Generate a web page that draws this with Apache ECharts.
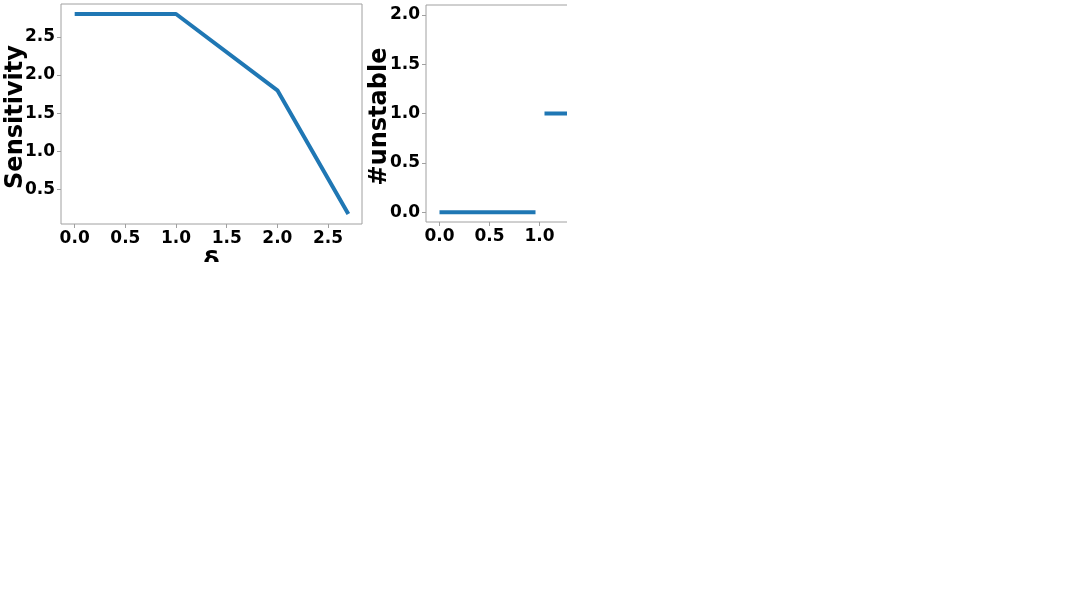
<!DOCTYPE html>
<html>
<head>
<meta charset="utf-8">
<script src="https://cdn.jsdelivr.net/npm/echarts@6/dist/echarts.min.js"></script>
<style>
html,body{margin:0;padding:0;background:#fff;}
#page{width:1087px;height:611px;background:#fff;position:relative;overflow:hidden;}
#clip{position:absolute;left:0;top:0;width:567px;height:262px;overflow:hidden;}
#chart{position:absolute;left:0;top:0;width:800px;height:300px;}
</style>
</head>
<body>
<div id="page"><div id="clip"><div id="chart"></div></div></div>
<script>
// Left panel: Sensitivity vs delta
const deltaLeft = [0, 1, 2, 2.7];
const sensitivity = [2.8, 2.8, 1.8, 0.18];
// Right panel: #unstable vs delta (separate flat segments)
const unstableSeg0X = [0, 0.96];
const unstableSeg0Y = [0, 0];
const unstableSeg1X = [1.05, 1.95];
const unstableSeg1Y = [1, 1];
const unstableSeg2X = [2.05, 2.7];
const unstableSeg2Y = [2, 2];
// Tick labels
const xTicks = [0, 0.5, 1.0, 1.5, 2.0, 2.5];
const yTicksLeft = [0.5, 1.0, 1.5, 2.0, 2.5];
const yTicksRight = [0, 0.5, 1.0, 1.5, 2.0];
const xLabel = 'δ';
const yLabelLeft = 'Sensitivity';
const yLabelRight = '#unstable';

const zip = (xs, ys) => xs.map((x, i) => [x, ys[i]]);
const FONT = 'DejaVu Sans';
const GRAY = '#a0a0a0';
const BLUE = '#1f77b4';

function xAxis(gridIndex, min, max) {
  return {
    type: 'value', gridIndex, min, max,
    splitLine: {show: false},
    axisLine: {show: false, onZero: false},
    axisTick: {show: true, length: 4, lineStyle: {color: GRAY, width: 1}, customValues: xTicks},
    axisLabel: {customValues: xTicks, color: '#000', fontFamily: FONT, fontWeight: 'bold', fontSize: 17, margin: 6,
      formatter: v => v.toFixed(1)},
    name: xLabel, nameLocation: 'middle', nameGap: 27, nameMoveOverlap: false,
    nameTextStyle: {color: '#000', fontFamily: FONT, fontWeight: 'bold', fontSize: 24, verticalAlign: 'top'}
  };
}
function yAxis(gridIndex, min, max, ticks, name, gap) {
  return {
    type: 'value', gridIndex, min, max,
    splitLine: {show: false},
    axisLine: {show: false, onZero: false},
    axisTick: {show: true, length: 4, lineStyle: {color: GRAY, width: 1}, customValues: ticks},
    axisLabel: {customValues: ticks, color: '#000', fontFamily: FONT, fontWeight: 'bold', fontSize: 17, margin: 6,
      formatter: v => v.toFixed(1)},
    name, nameLocation: 'middle', nameGap: gap, nameRotate: 90, nameMoveOverlap: false,
    nameTextStyle: {color: '#000', fontFamily: FONT, fontWeight: 'bold', fontSize: 24, padding: [0, 6, 0, 0]}
  };
}
function line(xi, yi, data) {
  return {type: 'line', xAxisIndex: xi, yAxisIndex: yi, data, showSymbol: false, symbol: 'none',
    lineStyle: {color: BLUE, width: 4, cap: 'butt'}, itemStyle: {color: BLUE}, animation: false, silent: true};
}

const chart = echarts.init(document.getElementById('chart'), null, {renderer: 'canvas'});
chart.setOption({
  animation: false,
  backgroundColor: '#fff',
  grid: [
    {left: 61, top: 4, width: 301, height: 220, show: true, borderColor: GRAY, borderWidth: 1, backgroundColor: 'transparent', containLabel: false, outerBoundsMode: 'none'},
    {left: 426, top: 5, width: 297, height: 217, show: true, borderColor: GRAY, borderWidth: 1, backgroundColor: 'transparent', containLabel: false, outerBoundsMode: 'none'}
  ],
  xAxis: [xAxis(0, -0.135, 2.835), xAxis(1, -0.135, 2.835)],
  yAxis: [yAxis(0, 0.049, 2.931, yTicksLeft, yLabelLeft, 33), yAxis(1, -0.1, 2.1, yTicksRight, yLabelRight, 34)],
  series: [
    line(0, 0, zip(deltaLeft, sensitivity)),
    line(1, 1, zip(unstableSeg0X, unstableSeg0Y)),
    line(1, 1, zip(unstableSeg1X, unstableSeg1Y)),
    line(1, 1, zip(unstableSeg2X, unstableSeg2Y))
  ]
});
</script>
</body>
</html>
